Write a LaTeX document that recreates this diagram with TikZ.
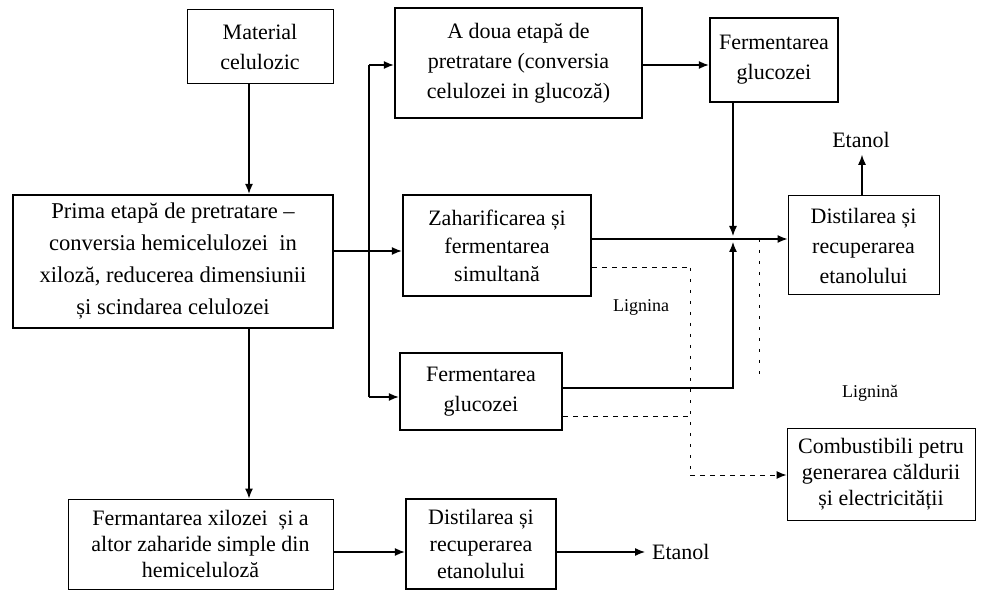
\documentclass[tikz,border=0pt]{standalone}
\usepackage{fontspec}
\setmainfont{Liberation Serif}
\usetikzlibrary{arrows.meta,calc}
\begin{document}
\begin{tikzpicture}[x=0.5pt,y=-0.5pt,
  boxthick/.style={draw, line width=1.2pt, align=center, inner sep=0pt, font=\fontsize{11}{15}\selectfont},
  boxthin/.style={draw, line width=0.5pt, align=center, inner sep=0pt, font=\fontsize{11}{15}\selectfont},
  arr/.style={line width=0.6pt, -{Latex[length=5pt,width=4pt]}},
  ln/.style={line width=0.6pt},
  dsh/.style={line width=0.5pt, dash pattern=on 2.5pt off 2.5pt},
  dtt/.style={line width=0.5pt, dash pattern=on 1.5pt off 4pt},
  lbl/.style={font=\fontsize{11}{14}\selectfont},
  small/.style={font=\fontsize{9}{11}\selectfont}]
\useasboundingbox (0,0) rectangle (1003,599);

% boxes
\node[boxthin, minimum width=73pt, minimum height=37pt] (mat) at (260,47) {Material\\celulozic};
\node[boxthick, minimum width=160pt, minimum height=66.5pt, font=\fontsize{11.3}{16}\selectfont] (prima) at (173,261.5)
  {Prima etapă de pretratare –\\conversia hemicelulozei \ in\\xiloză, reducerea dimensiunii\\și scindarea celulozei};
\node[boxthick, minimum width=123.5pt, minimum height=55pt] (adoua) at (518.5,63)
  {A doua etapă de\\pretratare (conversia\\celulozei in glucoză)};
\node[boxthick, minimum width=64pt, minimum height=42pt] (fgA) at (774,60) {Fermentarea\\glucozei};
\node[boxthick, minimum width=94pt, minimum height=50.5pt, font=\fontsize{11}{14}\selectfont] (zah) at (497,245.5)
  {Zaharificarea și\\fermentarea\\simultană};
\node[boxthick, minimum width=81pt, minimum height=38.5pt] (fgB) at (481,391.5) {Fermentarea\\glucozei};
\node[boxthin, minimum width=75.5pt, minimum height=49.5pt] (distA) at (863.5,245.5)
  {Distilarea și\\recuperarea\\etanolului};
\node[boxthin, minimum width=94pt, minimum height=46pt, font=\fontsize{11}{13}\selectfont] (comb) at (881,474)
  {Combustibili petru\\generarea căldurii\\și electricității};
\node[boxthin, minimum width=132.5pt, minimum height=45pt, font=\fontsize{11}{13}\selectfont] (ferm) at (200.5,544)
  {Fermantarea xilozei \ și a\\altor zaharide simple din\\hemiceluloză};
\node[boxthick, minimum width=75pt, minimum height=45pt, font=\fontsize{11}{13.5}\selectfont] (distB) at (481,544)
  {Distilarea și\\recuperarea\\etanolului};

% labels
\node[lbl, anchor=west] (etanB) at (645,552) {Etanol};
\node[lbl] (etanA) at (861,140) {Etanol};
\node[small] (lig1) at (641,307) {Lignina};
\node[small] (lig2) at (870,393) {Lignină};

% helper coordinates
\coordinate (cx) at (249,0);
\coordinate (ly) at (0,552);
\coordinate (b1) at (369,65);
\coordinate (b2) at (369,251);
\coordinate (b3) at (369,397);
\coordinate (j) at (733,239);
\coordinate (jt) at (733,236);
\coordinate (jb) at (733,242);
\coordinate (k) at (733,388);
\coordinate (d1) at (759,239);
\coordinate (d2) at (759,375);
\coordinate (l1) at (690,268);
\coordinate (l2) at (690,416);
\coordinate (l3) at (690,475);
\coordinate (ex) at (862,0);

% left column
\draw[arr] (mat.south -| cx) -- (prima.north -| cx);
\draw[arr] (prima.south -| cx) -- (ferm.north -| cx);
\draw[arr] (ferm.east |- ly) -- (distB.west |- ly);
\draw[arr] (distB.east |- ly) -- (etanB.west);

% branching
\draw[ln] (prima.east |- b2) -- (b2);
\draw[ln] (b1) -- (b3);
\draw[arr] (b1) -- (adoua.west |- b1);
\draw[arr] (b2) -- (zah.west |- b2);
\draw[arr] (b3) -- (fgB.west |- b3);
\draw[arr] (adoua.east |- b1) -- (fgA.west |- b1);

% to distillation
\draw[arr] (fgA.south -| j) -- (jt);
\draw[arr] (fgB.east |- k) -- (k) -- (jb);
\draw[arr] (zah.east |- j) -- (distA.west |- j);
\draw[arr] (distA.north -| ex) -- (etanA.south -| ex);
\fill (d1) circle (1.2);
\draw[dtt] (d1) -- (d2);

% lignin
\draw[dsh] (zah.east |- l1) -- (l1);
\draw[dtt] (l1) -- (l3);
\draw[dsh] (fgB.east |- l2) -- (l2);
\draw[dsh, -{Latex[length=5pt,width=4pt]}] (l3) -- (comb.west |- l3);
\end{tikzpicture}
\end{document}
